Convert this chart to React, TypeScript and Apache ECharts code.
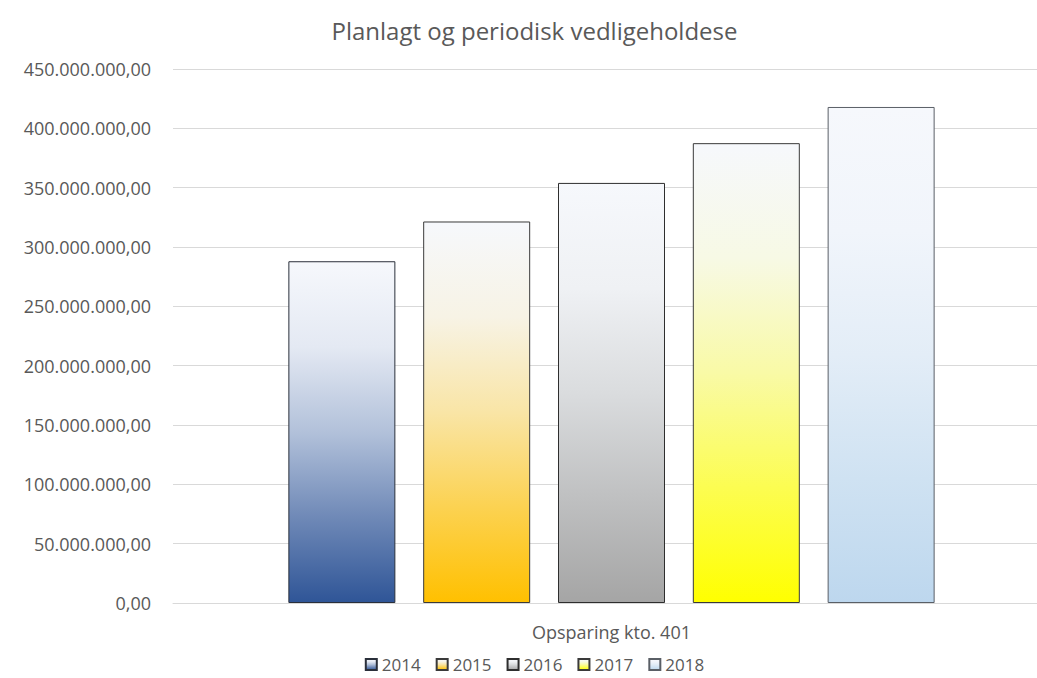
import React, { useEffect, useRef } from "react";
import * as echarts from "echarts";

const categories = ["Opsparing kto. 401"];
const years = ["2014", "2015", "2016", "2017", "2018"];
const values = [288000000, 321500000, 354000000, 387500000, 418000000];
const bottomColors = ["#2f5597", "#ffc000", "#a5a5a5", "#ffff00", "#bdd7ee"];
const borderColors = ["#2a2f3a", "#3a3a3a", "#2e2e2e", "#3a3a3a", "#5a5f66"];
const topColor = "#f6f8fc";

const FONT = "'Open Sans', 'Noto Sans', sans-serif";
const TEXT = "#595959";

function formatNo(v: number): string {
  const s = Math.round(v).toString().replace(/\B(?=(\d{3})+(?!\d))/g, ".");
  return s + ",00";
}

function mix(a: string, b: string, t: number): string {
  const pa = [1, 3, 5].map((k) => parseInt(a.slice(k, k + 2), 16));
  const pb = [1, 3, 5].map((k) => parseInt(b.slice(k, k + 2), 16));
  const c = pa.map((v, i) => Math.round(v + (pb[i] - v) * t));
  return `rgb(${c[0]},${c[1]},${c[2]})`;
}

// pale top fading into the full colour, lingering near white in the upper part
function barGradient(color: string) {
  const stops = [
    [0, 0],
    [0.25, 0.09],
    [0.5, 0.34],
    [0.75, 0.68],
    [1, 1],
  ];
  return new echarts.graphic.LinearGradient(
    0,
    0,
    0,
    1,
    stops.map(([o, t]) => ({ offset: o, color: mix(topColor, color, t) }))
  );
}

export default function App() {
  const ref = useRef<HTMLDivElement>(null);

  useEffect(() => {
    document.documentElement.style.overflow = "hidden";
    document.body.style.overflow = "hidden";
    if (!ref.current) return;
    const chart = echarts.init(ref.current, undefined, { renderer: "svg" });
    chart.setOption({
      animation: false,
      backgroundColor: "#ffffff",
      title: {
        text: "Planlagt og periodisk vedligeholdese",
        left: "center",
        top: 13,
        textStyle: { fontFamily: FONT, fontSize: 24, fontWeight: "normal", color: TEXT },
      },
      legend: {
        data: years,
        left: "center",
        top: 656,
        padding: [0, 5],
        itemWidth: 11,
        itemHeight: 11,
        itemGap: 15,
        icon: "rect",
        textStyle: { fontFamily: FONT, fontSize: 17, lineHeight: 17, color: TEXT },
      },
      grid: { left: 173, right: 19, top: 69, bottom: 75, containLabel: false },
      xAxis: {
        type: "category",
        data: categories,
        axisLine: { show: true, lineStyle: { color: "#d9d9d9", width: 1 } },
        axisTick: { show: false },
        axisLabel: { fontFamily: FONT, fontSize: 18, color: TEXT, margin: 20 },
      },
      yAxis: {
        type: "value",
        min: 0,
        max: 450000000,
        interval: 50000000,
        axisLine: { show: false },
        axisTick: { show: false },
        splitLine: { lineStyle: { color: "#d9d9d9", width: 1 } },
        axisLabel: {
          fontFamily: FONT,
          fontSize: 18,
          color: TEXT,
          margin: 22,
          formatter: (v: number) => formatNo(v),
        },
      },
      series: years.map((y, i) => ({
        name: y,
        type: "bar",
        data: [values[i]],
        barWidth: 107,
        barGap: "26%",
        itemStyle: {
          color: barGradient(bottomColors[i]),
          borderColor: borderColors[i],
          borderWidth: 1,
        },
      })),
    });
    return () => chart.dispose();
  }, []);

  return (
    <div
      ref={ref}
      style={{ position: "absolute", left: 0, top: 0, width: 1069, height: 678 }}
    />
  );
}
